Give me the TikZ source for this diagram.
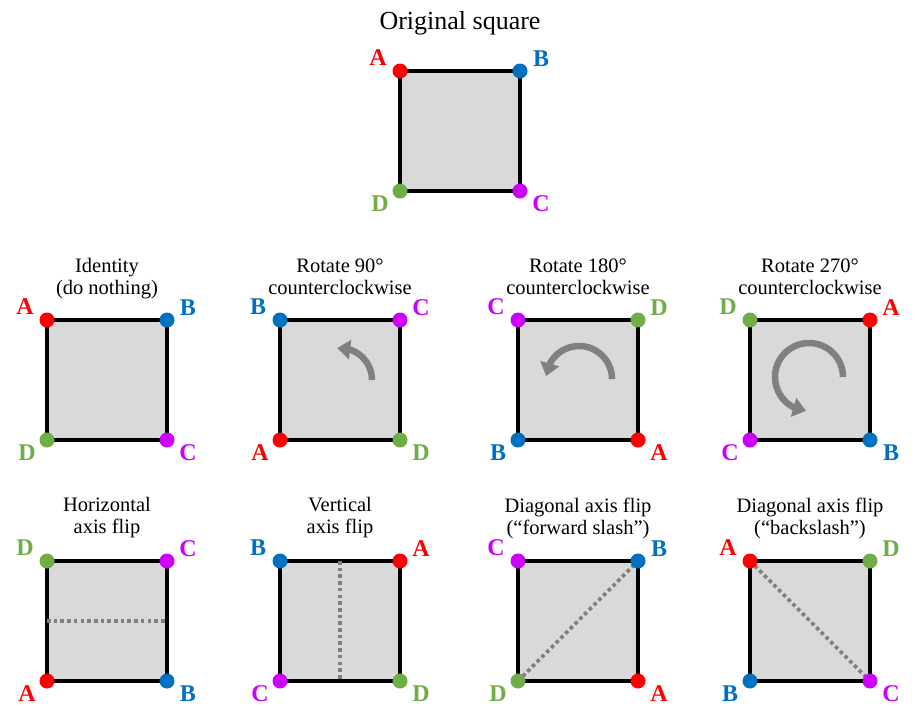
\documentclass[tikz,border=0pt]{standalone}
\usepackage{fontspec}
\setmainfont{Liberation Serif}
\usetikzlibrary{arrows.meta,bending,calc}
\definecolor{cA}{HTML}{FF0000}
\definecolor{cB}{HTML}{0070C0}
\definecolor{cC}{HTML}{CC00FF}
\definecolor{cD}{HTML}{70AD47}
\definecolor{sqfill}{HTML}{D9D9D9}
\definecolor{aux}{HTML}{808080}
\tikzset{
 sqbox/.style={draw=black, fill=sqfill, line width=4.2pt},
 vdot/.style={circle, fill=#1, inner sep=0pt, minimum size=15pt},
 vlab/.style={text=#1, font=\fontsize{24}{24}\selectfont\bfseries, inner sep=0pt},
 ttl/.style={font=\fontsize{20.5}{22}\selectfont, align=center, inner sep=0pt},
 bigttl/.style={font=\fontsize{26}{28}\selectfont, inner sep=0pt},
 axisline/.style={draw=aux, line width=3.8pt, dash pattern=on 3.6pt off 3.1pt},
 rotarrow/.style={draw=aux, line width=6.5pt, -{Triangle[length=13pt,width=19pt,flex]}},
}
\newcommand{\symsquare}[8]{%
 \coordinate (#1-tl) at (#2,#3);
 \coordinate (#1-tr) at (#2+120,#3);
 \coordinate (#1-br) at (#2+120,#3+120);
 \coordinate (#1-bl) at (#2,#3+120);
 \coordinate (#1-c) at (#2+60,#3+60);
 \draw[sqbox] (#1-tl) rectangle (#1-br);
 #8
 \node[vdot=c#4] (#1-dtl) at (#1-tl) {};
 \node[vdot=c#5] (#1-dtr) at (#1-tr) {};
 \node[vdot=c#6] (#1-dbr) at (#1-br) {};
 \node[vdot=c#7] (#1-dbl) at (#1-bl) {};
 \node[vlab=c#4] (#1-ltl) at ($(#1-tl)+(-22,-13)$) {#4};
 \node[vlab=c#5] (#1-ltr) at ($(#1-tr)+(21,-12)$) {#5};
 \node[vlab=c#6] (#1-lbr) at ($(#1-br)+(21,13)$) {#6};
 \node[vlab=c#7] (#1-lbl) at ($(#1-bl)+(-20,13)$) {#7};
}
\begin{document}
\begin{tikzpicture}[x=1pt,y=-1pt]
\useasboundingbox (0,0) rectangle (917,723);
% original
\node[bigttl] (t0) at (460,23) {Original square};
\symsquare{o}{400}{71}{A}{B}{C}{D}{}
% row 2
\node[ttl] (t1) at (107,279) {Identity\\(do nothing)};
\symsquare{id}{47}{320}{A}{B}{C}{D}{}
\node[ttl] (t2) at (340,277) {Rotate 90°\\counterclockwise};
\symsquare{r90}{280}{320}{B}{C}{D}{A}{%
 \draw[rotarrow] ($(r90-c)+(32,0)$) arc[start angle=0,end angle=-95,radius=32];}
\node[ttl] (t3) at (578,277) {Rotate 180°\\counterclockwise};
\symsquare{r180}{518}{320}{C}{D}{A}{B}{%
 \draw[rotarrow] ($(r180-c)+(34,-1)$) arc[start angle=0,end angle=-175,radius=33];}
\node[ttl] (t4) at (810,277) {Rotate 270°\\counterclockwise};
\symsquare{r270}{750}{320}{D}{A}{B}{C}{%
 \draw[rotarrow] ($(r270-c)+(33,-3)$) arc[start angle=0,end angle=-265,radius=34];}
% row 3
\node[ttl] (t5) at (107,518) {Horizontal\\axis flip};
\symsquare{hf}{47}{561}{D}{C}{B}{A}{%
 \draw[axisline] ($(hf-tl)!0.5!(hf-bl)$) -- ($(hf-tr)!0.5!(hf-br)$);}
\node[ttl] (t6) at (340,518) {Vertical\\axis flip};
\symsquare{vf}{280}{561}{B}{A}{D}{C}{%
 \draw[axisline] ($(vf-tl)!0.5!(vf-tr)$) -- ($(vf-bl)!0.5!(vf-br)$);}
\node[ttl] (t7) at (578,518) {Diagonal axis flip\\(“forward slash”)};
\symsquare{df}{518}{561}{C}{B}{A}{D}{%
 \draw[axisline] (df-bl) -- (df-tr);}
\node[ttl] (t8) at (810,518) {Diagonal axis flip\\(“backslash”)};
\symsquare{db}{750}{561}{A}{D}{C}{B}{%
 \draw[axisline] (db-tl) -- (db-br);}
\end{tikzpicture}
\end{document}
